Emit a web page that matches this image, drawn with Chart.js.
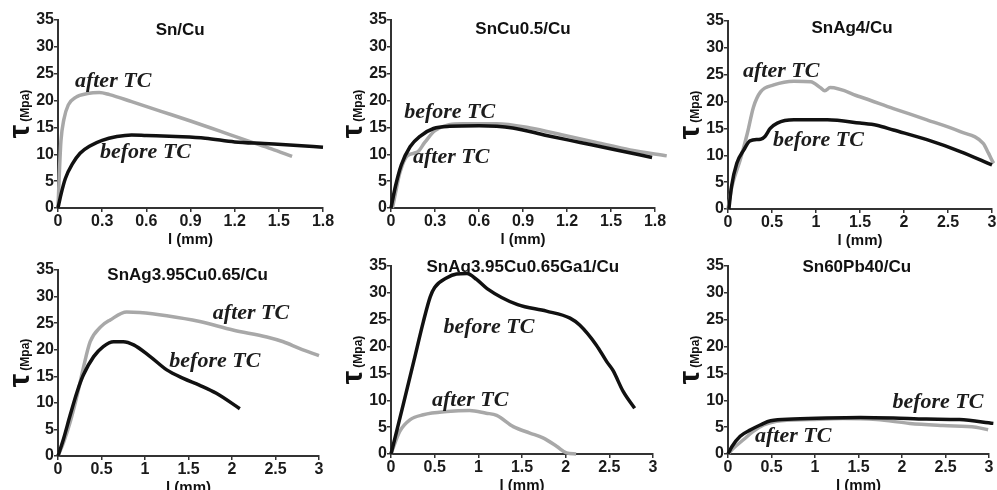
<!DOCTYPE html>
<html><head><meta charset="utf-8">
<script src="https://cdn.jsdelivr.net/npm/chart.js@4"></script>
<style>
html,body{margin:0;padding:0;background:#fff;}
#wrap{position:relative;width:997px;height:490px;overflow:hidden;background:#fff}
canvas{position:absolute}
</style></head><body><div id="wrap"></div>
<script>
// ---------- data ----------
const seriesNames = ['before TC', 'after TC'];
const titles = ['Sn/Cu', 'SnCu0.5/Cu', 'SnAg4/Cu', 'SnAg3.95Cu0.65/Cu', 'SnAg3.95Cu0.65Ga1/Cu', 'Sn60Pb40/Cu'];
const yTicks = [0, 5, 10, 15, 20, 25, 30, 35];
const yTickLabels = ['0', '5', '10', '15', '20', '25', '30', '35'];
const xTicks18 = [0, 0.3, 0.6, 0.9, 1.2, 1.5, 1.8];
const xTickLabels18 = ['0', '0.3', '0.6', '0.9', '1.2', '1.5', '1.8'];
const xTicks3 = [0, 0.5, 1, 1.5, 2, 2.5, 3];
const xTickLabels3 = ['0', '0.5', '1', '1.5', '2', '2.5', '3'];
const yTitle = ['τ', ' (Mpa)'];
const xTitle = 'l (mm)';

// Sn/Cu
const snCuBefore = [[0,0],[0.02,2.5],[0.05,5.5],[0.1,8.3],[0.15,10.2],[0.22,11.6],[0.3,12.6],[0.4,13.3],[0.5,13.6],[0.6,13.5],[0.8,13.3],[1.0,13.0],[1.2,12.3],[1.4,12.0],[1.6,11.7],[1.8,11.3]];
const snCuAfter = [[0,0],[0.01,7],[0.02,12.5],[0.04,16.5],[0.07,19.2],[0.12,20.6],[0.2,21.3],[0.28,21.5],[0.35,21.1],[0.5,19.8],[0.7,18.0],[0.9,16.2],[1.1,14.3],[1.3,12.4],[1.45,11.0],[1.59,9.6]];
// SnCu0.5/Cu
const snCu05Before = [[0,0],[0.03,4],[0.07,8],[0.13,11.4],[0.2,13.4],[0.29,14.8],[0.4,15.2],[0.6,15.3],[0.83,14.9],[1.06,13.5],[1.29,12.2],[1.52,10.9],[1.78,9.4]];
const snCu05After = [[0.01,0],[0.03,2.7],[0.06,6.5],[0.11,9.7],[0.18,10.4],[0.23,12.2],[0.3,14.4],[0.49,15.7],[0.72,15.7],[0.95,14.9],[1.17,13.6],[1.4,12.2],[1.63,10.8],[1.88,9.7]];
// SnAg4/Cu
const snAg4Before = [[0.01,0],[0.04,4.2],[0.1,8.5],[0.18,11],[0.25,12.7],[0.37,13],[0.42,13.5],[0.48,15],[0.56,16],[0.75,16.6],[1.13,16.6],[1.5,16],[1.69,15.6],[1.88,14.7],[2.26,12.9],[2.64,10.7],[3.0,8.2]];
const snAg4After = [[0,0],[0.045,4.2],[0.14,9.2],[0.22,14.1],[0.29,19],[0.37,21.8],[0.52,23.1],[0.75,23.8],[0.94,23.7],[1.05,22.6],[1.1,22],[1.16,22.6],[1.5,20.9],[1.88,18.7],[2.26,16.6],[2.64,14.4],[2.9,12.2],[2.96,10.4],[3.02,8.5],[3.06,8.2]];
// SnAg3.95Cu0.65/Cu
const sacBefore = [[0,0],[0.065,3.3],[0.14,7.7],[0.22,12.1],[0.29,15.2],[0.41,18.7],[0.52,20.6],[0.64,21.5],[0.75,21.5],[0.87,20.9],[1.06,18.7],[1.25,16.2],[1.44,14.6],[1.63,13.3],[1.82,11.8],[2.09,8.9]];
const sacAfter = [[0,0],[0.065,2.6],[0.14,6.4],[0.22,11.4],[0.29,16.5],[0.37,21.5],[0.49,24.3],[0.6,25.6],[0.79,27.1],[0.94,27],[1.25,26.4],[1.63,25.3],[2.01,23.7],[2.4,22.4],[2.59,21.5],[2.78,20.2],[3.0,18.9]];
// SnAg3.95Cu0.65Ga1/Cu
const sacGaBefore = [[0,0],[0.14,9.2],[0.26,17.2],[0.37,24.6],[0.45,29.3],[0.5,31],[0.64,32.8],[0.75,33.5],[0.87,33.6],[0.98,32.5],[1.1,30.8],[1.45,27.8],[1.78,26.6],[2.05,25.3],[2.16,24],[2.35,20.3],[2.47,17.2],[2.54,15.6],[2.66,11.6],[2.79,8.5]];
const sacGaAfter = [[0,0],[0.1,4.2],[0.22,6.4],[0.37,7.3],[0.64,7.9],[0.9,8.1],[1.09,7.6],[1.21,7.2],[1.4,5.1],[1.59,3.9],[1.74,3],[1.9,1.4],[2.01,0.2],[2.12,0]];
// Sn60Pb40/Cu
const snPbBefore = [[0,0],[0.046,1.4],[0.14,3.3],[0.26,4.5],[0.37,5.4],[0.49,6.2],[0.75,6.5],[1.13,6.7],[1.52,6.8],[1.9,6.7],[2.28,6.5],[2.66,6.4],[3.05,5.7]];
const snPbAfter = [[0,0],[0.065,1.1],[0.18,2.7],[0.29,4.2],[0.41,5.4],[0.56,6.1],[0.94,6.4],[1.32,6.6],[1.71,6.4],[2.09,5.7],[2.47,5.3],[2.85,5.0],[2.99,4.5]];

// ---------- layout ----------
const panels = [
  {title:titles[0], before:snCuBefore, after:snCuAfter, xT:xTicks18, xL:xTickLabels18, xMax:1.8,
   c:{l:0,t:0,w:345,h:250}, a:{l:58,r:323,t:20,b:208}, tp:[0.83,32.2], lb:[0.285,9.3], la:[0.115,22.5]},
  {title:titles[1], before:snCu05Before, after:snCu05After, xT:xTicks18, xL:xTickLabels18, xMax:1.8,
   c:{l:325,t:0,w:355,h:250}, a:{l:391,r:655,t:20,b:208}, tp:[0.9,32.4], lb:[0.09,16.8], la:[0.15,8.4]},
  {title:titles[2], before:snAg4Before, after:snAg4After, xT:xTicks3, xL:xTickLabels3, xMax:3,
   c:{l:655,t:0,w:342,h:250}, a:{l:728,r:992,t:21,b:209}, tp:[1.41,32.8], lb:[0.51,11.7], la:[0.17,24.5]},
  {title:titles[3], before:sacBefore, after:sacAfter, xT:xTicks3, xL:xTickLabels3, xMax:3,
   c:{l:0,t:240,w:345,h:250}, a:{l:58,r:319,t:270,b:456}, tp:[1.49,33.1], lb:[1.28,16.8], la:[1.78,25.8]},
  {title:titles[4], before:sacGaBefore, after:sacGaAfter, xT:xTicks3, xL:xTickLabels3, xMax:3,
   c:{l:325,t:240,w:340,h:250}, a:{l:391,r:653,t:266,b:454}, tp:[1.51,33.9], lb:[0.6,22.6], la:[0.47,8.9]},
  {title:titles[5], before:snPbBefore, after:snPbAfter, xT:xTicks3, xL:xTickLabels3, xMax:3,
   c:{l:655,t:240,w:342,h:250}, a:{l:728,r:989,t:266,b:454}, tp:[1.48,33.9], lb:[1.89,8.5], la:[0.31,2.3]}
];

const SANS = '"Liberation Sans", Arial, sans-serif';
const SERIF = '"Liberation Serif", "Times New Roman", serif';

const textPlugin = {
  id: 'texts',
  afterDraw(chart, args, opts) {
    const p = opts.panel;
    const {ctx, chartArea: a} = chart;
    const x = chart.scales.x, y = chart.scales.y;
    ctx.save();
    ctx.fillStyle = '#111';
    ctx.font = 'bold 17px ' + SANS;
    ctx.textAlign = 'center'; ctx.textBaseline = 'alphabetic';
    ctx.fillText(p.title, x.getPixelForValue(p.tp[0]), y.getPixelForValue(p.tp[1]));
    ctx.font = 'italic bold 22px ' + SERIF;
    ctx.textAlign = 'left';
    ctx.fillStyle = '#1c1c1c';
    ctx.fillText(seriesNames[0], x.getPixelForValue(p.lb[0]), y.getPixelForValue(p.lb[1]));
    ctx.fillText(seriesNames[1], x.getPixelForValue(p.la[0]), y.getPixelForValue(p.la[1]));
    ctx.fillStyle = '#111';
    ctx.font = 'bold 15px ' + SANS;
    ctx.textAlign = 'center'; ctx.textBaseline = 'middle';
    ctx.fillText(xTitle, (a.left + a.right) / 2, a.bottom + 32);
    ctx.translate(a.left - 29, (a.top + a.bottom) / 2);
    ctx.rotate(-Math.PI / 2);
    ctx.textBaseline = 'alphabetic'; ctx.textAlign = 'left';
    const f1 = 'bold 30px ' + SANS, f2 = 'bold 12px ' + SANS;
    ctx.font = f1; const w1 = ctx.measureText(yTitle[0]).width;
    ctx.font = f2; const w2 = ctx.measureText(yTitle[1]).width;
    const sx = -(w1 + w2) / 2;
    ctx.font = f1; ctx.fillText(yTitle[0], sx, 0);
    ctx.font = f2; ctx.fillText(yTitle[1], sx + w1, 0);
    ctx.restore();
  }
};

const wrap = document.getElementById('wrap');
panels.forEach(p => {
  const cv = document.createElement('canvas');
  cv.width = p.c.w; cv.height = p.c.h;
  cv.style.left = p.c.l + 'px'; cv.style.top = p.c.t + 'px';
  cv.style.width = p.c.w + 'px'; cv.style.height = p.c.h + 'px';
  wrap.appendChild(cv);
  const tickFont = {family: SANS, size: 16, weight: 'bold'};
  const gridOpt = {display: true, drawOnChartArea: false, drawTicks: true, tickLength: 4, color: '#333', lineWidth: 1.5};
  const borderOpt = {display: true, color: '#333', width: 2};
  new Chart(cv, {
    type: 'scatter',
    data: {
      datasets: [
        {label: seriesNames[0], data: p.before.map(([x, y]) => ({x, y})), borderColor: '#111', borderWidth: 3.5,
         pointRadius: 0, showLine: true, cubicInterpolationMode: 'monotone', clip: false},
        {label: seriesNames[1], data: p.after.map(([x, y]) => ({x, y})), borderColor: '#a8a8a8', borderWidth: 3.5,
         pointRadius: 0, showLine: true, cubicInterpolationMode: 'monotone', clip: false}
      ]
    },
    options: {
      responsive: false, animation: false, devicePixelRatio: 1,
      layout: {padding: {left: 0, top: p.a.t - p.c.t, right: p.c.l + p.c.w - p.a.r, bottom: 0}},
      plugins: {legend: {display: false}, tooltip: {enabled: false}, texts: {panel: p}},
      scales: {
        x: {
          type: 'linear', min: 0, max: p.xMax,
          afterFit(s) { s.height = p.c.t + p.c.h - p.a.b; s.paddingLeft = 0; s.paddingRight = 0; },
          afterBuildTicks(s) { s.ticks = p.xT.map(v => ({value: v})); },
          ticks: {callback: (v, i) => p.xL[i], font: tickFont, color: '#1a1a1a', padding: 0, maxRotation: 0, autoSkip: false},
          grid: gridOpt, border: borderOpt
        },
        y: {
          type: 'linear', min: 0, max: 35,
          afterFit(s) { s.width = p.a.l - p.c.l; s.paddingTop = 0; s.paddingBottom = 0; },
          afterBuildTicks(s) { s.ticks = yTicks.map(v => ({value: v})); },
          ticks: {callback: (v, i) => yTickLabels[i], font: tickFont, color: '#1a1a1a', padding: 0, autoSkip: false},
          grid: gridOpt, border: borderOpt
        }
      }
    },
    plugins: [textPlugin]
  });
});
</script></body></html>
